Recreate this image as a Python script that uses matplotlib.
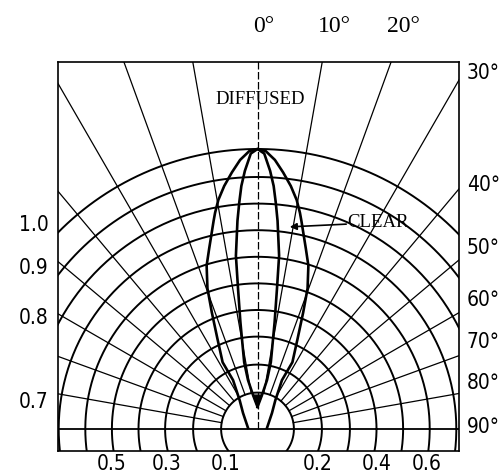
import numpy as np
import matplotlib.pyplot as plt
from matplotlib import font_manager

# relative intensity vs angle off axis (one half, the other side is mirrored)
diffused_deg = [0, 1.7, 2.4, 3.7, 5.7, 7.8, 9.7, 11.1, 11.9, 15.0, 17.3, 19.6, 21.4, 23.9, 27.6,
                26.6, 31.8, 42.2, 84.0]
diffused_rel = [1.0, 0.993, 0.982, 0.963, 0.921, 0.876, 0.830, 0.787, 0.760, 0.667, 0.611, 0.533,
                0.447, 0.354, 0.269, 0.195, 0.121, 0.077, 0.034]
clear_deg = [0, 1.4, 2.8, 3.8, 4.6, 5.5, 7.1, 7.9, 9.1, 11.3, 11.0, 7.5, 0]
clear_rel = [1.0, 0.984, 0.923, 0.870, 0.812, 0.747, 0.624, 0.506, 0.386, 0.243, 0.178, 0.122, 0.079]

# polar grid
ring_r = [0.13, 0.23, 0.33, 0.425, 0.52, 0.615, 0.71, 0.805, 0.9, 1.0]
spoke_deg = [-80, -70, -60, -50, -40, -30, -20, -10, 10, 20, 30, 40, 50, 60, 70, 80]

# labels
top_labels = ['0°', '10°', '20°']
right_labels = ['30°', '40°', '50°', '60°', '70°', '80°', '90°']
left_labels = ['1.0', '0.9', '0.8', '0.7']
bottom_labels = ['0.5', '0.3', '0.1', '0.2', '0.4', '0.6']

W, H = 502, 474
def px(x, y):                       # pixel position -> figure fraction
    return x / W, 1 - y / H

def narrow_font():
    for f in font_manager.fontManager.ttflist:
        narrow = 'Narrow' in f.name or 'Condensed' in f.name or f.stretch in ('condensed', 'semi-condensed')
        if narrow and f.style == 'normal' and f.weight in (400, 'normal', 'regular') and 'Mono' not in f.name:
            return font_manager.FontProperties(fname=f.fname)
    return None

names = set(f.name for f in font_manager.fontManager.ttflist)
serif = 'Liberation Serif' if 'Liberation Serif' in names else 'DejaVu Serif'
sans_fp = narrow_font()
if sans_fp is None:
    sans_fp = font_manager.FontProperties(family='Liberation Sans')
    sans_size = 13.5
else:
    sans_size = 15
sans_fp.set_size(sans_size)

fig = plt.figure(figsize=(W / 100, H / 100), dpi=100)
ax = fig.add_axes([58 / W, 23 / H, 401 / W, 389 / H])
ax.set_xlim(-0.7125, 0.7196)
ax.set_ylim(-0.0786, 1.3107)
ax.set_xticks([])
ax.set_yticks([])
for s in ax.spines.values():
    s.set_linewidth(1.2)

t = np.linspace(0, 2 * np.pi, 500)
for r in ring_r:
    ax.plot(r * np.cos(t), r * np.sin(t), color='black', lw=1.4)

for a in spoke_deg:
    th = np.radians(a)
    rr = np.array([ring_r[0], 2.0])
    ax.plot(rr * np.sin(th), rr * np.cos(th), color='black', lw=0.9)
ax.plot([0, 0], [0, 2], color='black', lw=0.9, ls=(0, (6, 2)))
ax.axhline(0, color='black', lw=1.3)

def lobe(deg, rel):
    th = np.radians(np.array(deg))
    r = np.array(rel)
    x = np.concatenate([-(r * np.sin(th))[::-1], r * np.sin(th)])
    y = np.concatenate([(r * np.cos(th))[::-1], r * np.cos(th)])
    return x, y

x, y = lobe(diffused_deg, diffused_rel)
ax.plot(x, y, color='black', lw=1.9, solid_joinstyle='round')
x, y = lobe(clear_deg, clear_rel)
ax.plot(x, y, color='black', lw=1.9, solid_joinstyle='round')
# dark wedge at the tip of the narrow lobe
th = np.radians(clear_deg[-2])
ax.fill([-clear_rel[-2] * np.sin(th), 0, clear_rel[-2] * np.sin(th)],
        [clear_rel[-2] * np.cos(th), clear_rel[-1], clear_rel[-2] * np.cos(th)], color='black')

# text around the frame
for lab, xp in zip(top_labels, [253, 318, 387]):
    fig.text(*px(xp, 27), lab, family=serif, fontsize=17, ha='left', va='center')
for lab, yp in zip(right_labels, [73, 185, 248, 300, 342, 383, 427]):
    fig.text(*px(467, yp), lab, fontproperties=sans_fp, ha='left', va='center')
for lab, yp in zip(left_labels, [225, 268, 318, 402]):
    fig.text(*px(49, yp), lab, fontproperties=sans_fp, ha='right', va='center')
for lab, xp in zip(bottom_labels, [112, 167, 226, 318, 377, 427]):
    fig.text(*px(xp, 464), lab, fontproperties=sans_fp, ha='center', va='center')

fig.text(*px(260, 99), 'DIFFUSED', family=serif, fontsize=13.5, ha='center', va='center')
fig.text(*px(378, 222), 'CLEAR', family=serif, fontsize=13.5, ha='center', va='center')
ax.annotate('', xy=px(287, 227), xycoords='figure fraction',
            xytext=px(349, 224), textcoords='figure fraction',
            arrowprops=dict(arrowstyle='-|>', color='black', lw=1.2, mutation_scale=10))

fig.savefig('out.png', dpi=100)
